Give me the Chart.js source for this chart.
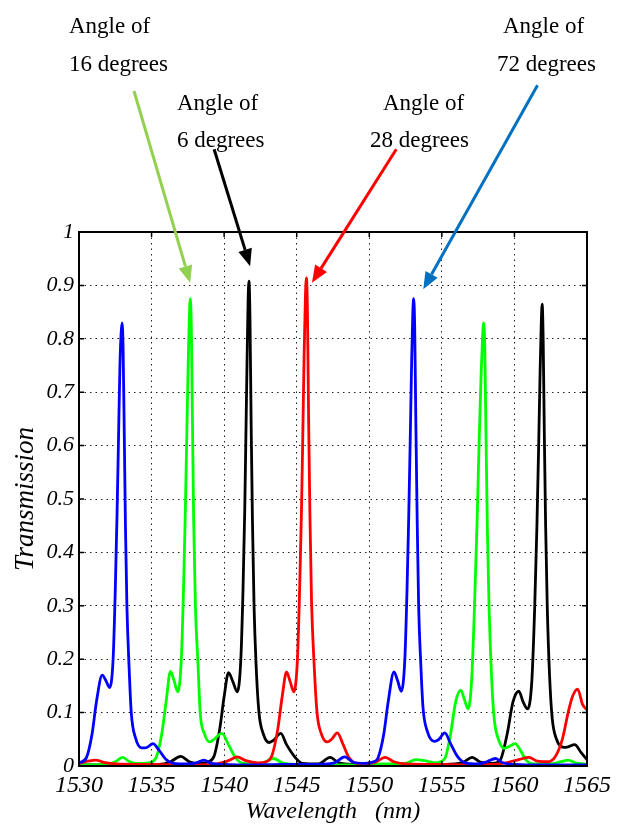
<!DOCTYPE html>
<html>
<head>
<meta charset="utf-8">
<script src="https://cdn.jsdelivr.net/npm/chart.js@4/dist/chart.umd.min.js"></script>
<style>
  html, body { margin: 0; padding: 0; background: #fff; }
  canvas { display: block; }
</style>
</head>
<body>
<canvas id="chart" width="626" height="827"></canvas>
<script>
// Transmission spectra for four incidence angles.
const xTicks = [1530, 1535, 1540, 1545, 1550, 1555, 1560, 1565];
const yTicks = [0, 0.1, 0.2, 0.3, 0.4, 0.5, 0.6, 0.7, 0.8, 0.9, 1];

// 72 degrees (blue)
const blueWl = [1530.0, 1530.5, 1530.9, 1531.2, 1531.6, 1531.85, 1532.1, 1532.35, 1532.5, 1532.62, 1532.72, 1532.82, 1532.9, 1532.97, 1533.04, 1533.12, 1533.2, 1533.3, 1533.45, 1533.6, 1533.9, 1534.3, 1534.6, 1535.1, 1535.5, 1536.0, 1536.5, 1537.5, 1538.1, 1538.6, 1539.1, 1540.0, 1542.0, 1544.0, 1546.0, 1547.6, 1548.3, 1548.9, 1549.7, 1550.3, 1550.6, 1551.0, 1551.3, 1551.7, 1551.95, 1552.2, 1552.45, 1552.6, 1552.72, 1552.82, 1552.92, 1553.0, 1553.06, 1553.13, 1553.21, 1553.3, 1553.4, 1553.55, 1553.7, 1554.0, 1554.5, 1554.8, 1555.2, 1555.6, 1556.1, 1556.6, 1557.5, 1558.1, 1558.7, 1559.2, 1560.0, 1562.0, 1565.0];
const blueT = [0.006, 0.015, 0.06, 0.12, 0.17, 0.16, 0.147, 0.2, 0.33, 0.47, 0.61, 0.75, 0.81, 0.83, 0.78, 0.62, 0.45, 0.3, 0.186, 0.1, 0.052, 0.034, 0.034, 0.042, 0.03, 0.012, 0.005, 0.004, 0.006, 0.011, 0.005, 0.003, 0.002, 0.003, 0.003, 0.006, 0.017, 0.007, 0.005, 0.008, 0.015, 0.06, 0.12, 0.176, 0.16, 0.14, 0.2, 0.33, 0.47, 0.61, 0.76, 0.85, 0.875, 0.82, 0.64, 0.46, 0.3, 0.19, 0.11, 0.065, 0.046, 0.05, 0.062, 0.042, 0.017, 0.006, 0.004, 0.008, 0.014, 0.006, 0.003, 0.002, 0.002];

// 28 degrees (red)
const redWl = [1530.0, 1530.6, 1531.15, 1531.7, 1532.5, 1535.0, 1538.0, 1539.5, 1540.3, 1540.9, 1541.5, 1542.3, 1542.9, 1543.3, 1543.7, 1544.0, 1544.3, 1544.55, 1544.8, 1545.05, 1545.2, 1545.33, 1545.42, 1545.51, 1545.6, 1545.67, 1545.74, 1545.82, 1545.91, 1546.02, 1546.2, 1546.4, 1546.7, 1547.1, 1547.4, 1547.8, 1548.2, 1548.6, 1549.2, 1550.3, 1551.1, 1551.7, 1552.5, 1555.0, 1557.0, 1559.0, 1560.3, 1561.0, 1561.6, 1562.3, 1562.8, 1563.3, 1563.7, 1564.0, 1564.35, 1564.7, 1565.0];
const redT = [0.005, 0.009, 0.011, 0.007, 0.004, 0.003, 0.002, 0.004, 0.01, 0.017, 0.01, 0.006, 0.008, 0.02, 0.07, 0.13, 0.176, 0.158, 0.139, 0.2, 0.33, 0.48, 0.62, 0.77, 0.88, 0.914, 0.85, 0.65, 0.47, 0.31, 0.19, 0.1, 0.06, 0.045, 0.05, 0.062, 0.04, 0.016, 0.005, 0.006, 0.016, 0.008, 0.004, 0.003, 0.002, 0.004, 0.012, 0.016, 0.009, 0.008, 0.017, 0.05, 0.1, 0.13, 0.144, 0.115, 0.105];

// 16 degrees (green)
const greenWl = [1530.0, 1532.0, 1532.5, 1533.0, 1533.5, 1534.0, 1534.8, 1535.3, 1535.7, 1536.0, 1536.3, 1536.55, 1536.8, 1537.05, 1537.2, 1537.32, 1537.42, 1537.52, 1537.6, 1537.67, 1537.74, 1537.82, 1537.9, 1538.02, 1538.2, 1538.35, 1538.65, 1539.0, 1539.3, 1539.85, 1540.3, 1540.8, 1541.3, 1542.5, 1543.4, 1544.0, 1545.0, 1548.0, 1550.0, 1551.0, 1552.5, 1553.2, 1553.8, 1554.5, 1555.2, 1555.6, 1555.95, 1556.3, 1556.55, 1556.8, 1557.05, 1557.25, 1557.42, 1557.56, 1557.7, 1557.8, 1557.88, 1557.96, 1558.05, 1558.14, 1558.25, 1558.42, 1558.6, 1558.9, 1559.3, 1559.6, 1560.05, 1560.4, 1560.8, 1561.3, 1562.5, 1563.2, 1563.7, 1564.2, 1565.0];
const greenT = [0.002, 0.003, 0.008, 0.016, 0.008, 0.005, 0.006, 0.015, 0.06, 0.12, 0.177, 0.16, 0.139, 0.2, 0.33, 0.47, 0.61, 0.75, 0.84, 0.875, 0.82, 0.64, 0.46, 0.3, 0.19, 0.1, 0.06, 0.045, 0.05, 0.061, 0.04, 0.015, 0.005, 0.004, 0.014, 0.006, 0.003, 0.002, 0.003, 0.004, 0.005, 0.012, 0.01, 0.006, 0.014, 0.06, 0.12, 0.142, 0.125, 0.107, 0.16, 0.3, 0.45, 0.6, 0.73, 0.8, 0.83, 0.78, 0.6, 0.44, 0.3, 0.17, 0.09, 0.05, 0.033, 0.036, 0.042, 0.03, 0.011, 0.004, 0.004, 0.008, 0.011, 0.006, 0.003];

// 6 degrees (black)
const blackWl = [1530.0, 1535.5, 1536.3, 1537.0, 1537.6, 1538.3, 1538.8, 1539.3, 1539.7, 1540.0, 1540.3, 1540.6, 1540.9, 1541.15, 1541.3, 1541.42, 1541.5, 1541.58, 1541.65, 1541.71, 1541.78, 1541.86, 1541.95, 1542.06, 1542.2, 1542.4, 1542.7, 1543.1, 1543.4, 1543.9, 1544.3, 1544.9, 1545.4, 1546.5, 1547.3, 1547.9, 1549.0, 1552.0, 1555.0, 1556.4, 1557.1, 1557.6, 1558.5, 1559.0, 1559.5, 1559.9, 1560.3, 1560.6, 1560.9, 1561.2, 1561.4, 1561.55, 1561.67, 1561.77, 1561.85, 1561.91, 1561.98, 1562.06, 1562.15, 1562.26, 1562.42, 1562.6, 1562.9, 1563.4, 1563.7, 1564.15, 1564.6, 1565.0];
const blackT = [0.002, 0.003, 0.008, 0.018, 0.008, 0.005, 0.007, 0.018, 0.07, 0.13, 0.175, 0.158, 0.139, 0.2, 0.33, 0.48, 0.62, 0.76, 0.87, 0.908, 0.84, 0.64, 0.46, 0.3, 0.19, 0.1, 0.06, 0.044, 0.048, 0.061, 0.04, 0.016, 0.005, 0.004, 0.016, 0.006, 0.003, 0.002, 0.003, 0.006, 0.016, 0.008, 0.005, 0.01, 0.06, 0.12, 0.14, 0.12, 0.107, 0.16, 0.3, 0.45, 0.6, 0.74, 0.83, 0.865, 0.8, 0.62, 0.45, 0.3, 0.17, 0.09, 0.05, 0.035, 0.036, 0.04, 0.025, 0.012];

// Callouts: text lines (pixel positions) and arrows (tail/tip in data units)
const callouts = [
  { color: '#92d050', lines: [['Angle of', 69, 33], ['16 degrees', 69, 71]], tail: [1533.79, 1.264], tip: [1537.66, 0.905] },
  { color: '#000000', lines: [['Angle of', 177, 110], ['6 degrees', 177, 147]], tail: [1539.31, 1.155], tip: [1541.79, 0.936] },
  { color: '#ff0000', lines: [['Angle of', 383, 110], ['28 degrees', 370, 147]], tail: [1551.86, 1.155], tip: [1546.05, 0.905] },
  { color: '#0070c0', lines: [['Angle of', 503, 33], ['72 degrees', 497, 71]], tail: [1561.59, 1.275], tip: [1553.72, 0.893] },
];

const serif = '"Liberation Serif", "Times New Roman", serif';
const pts = (xs, ys) => xs.map((x, i) => ({ x, y: ys[i] }));
const series = (label, color, xs, ys) => ({
  label, data: pts(xs, ys), borderColor: color, backgroundColor: color,
  borderWidth: 2.8, pointRadius: 0, cubicInterpolationMode: 'monotone', fill: false,
});

// Box round the plot with MATLAB-style inward ticks.
const frame = {
  id: 'frame',
  afterDatasetsDraw(chart) {
    const { ctx, chartArea: a, scales: { x, y } } = chart;
    ctx.save();
    ctx.strokeStyle = '#000';
    ctx.lineWidth = 1.5;
    ctx.beginPath();
    xTicks.forEach((v) => {
      const p = x.getPixelForValue(v);
      ctx.moveTo(p, a.bottom); ctx.lineTo(p, a.bottom - 5);
      ctx.moveTo(p, a.top); ctx.lineTo(p, a.top + 5);
    });
    yTicks.forEach((v) => {
      const p = y.getPixelForValue(v);
      ctx.moveTo(a.left, p); ctx.lineTo(a.left + 5, p);
      ctx.moveTo(a.right, p); ctx.lineTo(a.right - 5, p);
    });
    ctx.stroke();
    ctx.lineWidth = 2;
    ctx.strokeRect(a.left, a.top, a.right - a.left, a.bottom - a.top);
    ctx.restore();
  },
  afterDraw(chart) {
    const { ctx, scales: { x, y } } = chart;
    ctx.save();
    ctx.font = '23px ' + serif;
    ctx.textBaseline = 'alphabetic';
    callouts.forEach((c) => {
      ctx.fillStyle = '#000';
      c.lines.forEach(([t, px, py]) => ctx.fillText(t, px, py));
      const x0 = x.getPixelForValue(c.tail[0]), y0 = y.getPixelForValue(c.tail[1]);
      const x1 = x.getPixelForValue(c.tip[0]), y1 = y.getPixelForValue(c.tip[1]);
      const ang = Math.atan2(y1 - y0, x1 - x0);
      const head = 17, half = 7;
      const bx = x1 - head * Math.cos(ang), by = y1 - head * Math.sin(ang);
      ctx.strokeStyle = c.color; ctx.fillStyle = c.color; ctx.lineWidth = 3;
      ctx.beginPath(); ctx.moveTo(x0, y0); ctx.lineTo(bx, by); ctx.stroke();
      ctx.beginPath();
      ctx.moveTo(x1, y1);
      ctx.lineTo(bx + half * Math.sin(ang), by - half * Math.cos(ang));
      ctx.lineTo(bx - half * Math.sin(ang), by + half * Math.cos(ang));
      ctx.closePath(); ctx.fill();
    });
    ctx.restore();
  },
};

new Chart(document.getElementById('chart'), {
  type: 'line',
  data: {
    datasets: [
      series('72 degrees', '#0000ff', blueWl, blueT),
      series('28 degrees', '#ff0000', redWl, redT),
      series('16 degrees', '#00ff00', greenWl, greenT),
      series('6 degrees', '#000000', blackWl, blackT),
    ],
  },
  options: {
    responsive: false,
    animation: false,
    devicePixelRatio: 1,
    layout: { padding: { left: 0, top: 232, right: 39, bottom: 0 } },
    plugins: { legend: { display: false }, tooltip: { enabled: false } },
    scales: {
      x: {
        type: 'linear', min: 1530, max: 1565,
        afterFit: (s) => { s.height = 61; },
        afterBuildTicks: (s) => { s.ticks = xTicks.map((v) => ({ value: v })); },
        ticks: { color: '#000', padding: 5, maxRotation: 0, callback: (v) => String(v), font: { family: serif, size: 24, style: 'italic' } },
        grid: { color: '#222', lineWidth: 1, drawTicks: false },
        border: { display: false, dash: [1.5, 4] },
        title: { display: true, text: 'Wavelength   (nm)', color: '#000', padding: { top: 0, bottom: 1 }, font: { family: serif, size: 24, style: 'italic' } },
      },
      y: {
        min: 0, max: 1,
        afterFit: (s) => { s.width = 79; },
        afterBuildTicks: (s) => { s.ticks = yTicks.map((v) => ({ value: v })); },
        ticks: { color: '#000', padding: 5, callback: (v) => (v === 0 || v === 1 ? String(v) : v.toFixed(1)), font: { family: serif, size: 22, style: 'italic' } },
        grid: { color: '#222', lineWidth: 1, drawTicks: false },
        border: { display: false, dash: [1.5, 4] },
        title: { display: true, text: 'Transmission', color: '#000', padding: { top: 10, bottom: 0 }, font: { family: serif, size: 27, style: 'italic' } },
      },
    },
  },
  plugins: [frame],
});
</script>
</body>
</html>
